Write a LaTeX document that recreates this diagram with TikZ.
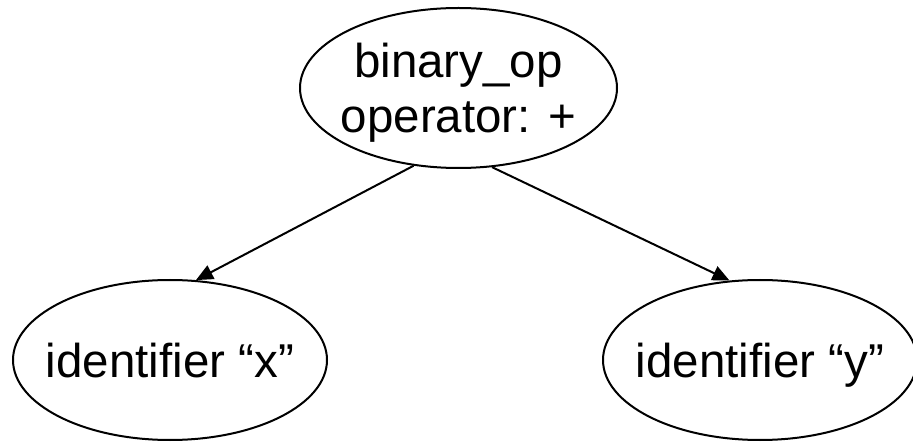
\documentclass[tikz,border=0pt]{standalone}
\usepackage{fontspec}
\setmainfont{Liberation Sans}
\usetikzlibrary{shapes.geometric,arrows.meta}

\begin{document}
\begin{tikzpicture}[x=1pt,y=1pt,
    astnode/.style={draw,ellipse,line width=2pt,inner sep=0pt,
      minimum width=317pt,minimum height=160pt,
      font=\fontsize{47.5}{55}\selectfont},
    edge/.style={line width=2pt,-{Triangle[length=17pt,width=15pt]}}]
      \clip (0,0) rectangle (913,442);
      \node[astnode] (binop) at (458.5,354) {\makebox[0pt]{\raisebox{0pt}[90pt][0pt]{\begin{tabular}[b]{@{}c@{}}binary\_op\\operator: +\end{tabular}}}};
      \node[astnode,minimum width=314pt] (idx) at (170,82) {\makebox[0pt]{\raisebox{0pt}[36pt][0pt]{identifier “x”}}};
      \node[astnode,minimum width=314pt] (idy) at (760,82) {\makebox[0pt]{\raisebox{0pt}[36pt][0pt]{identifier “y”}}};
      \draw[edge] (binop.240) -- (idx.72);
      \draw[edge] (binop.293) -- (idy.111);
\end{tikzpicture}
\end{document}
